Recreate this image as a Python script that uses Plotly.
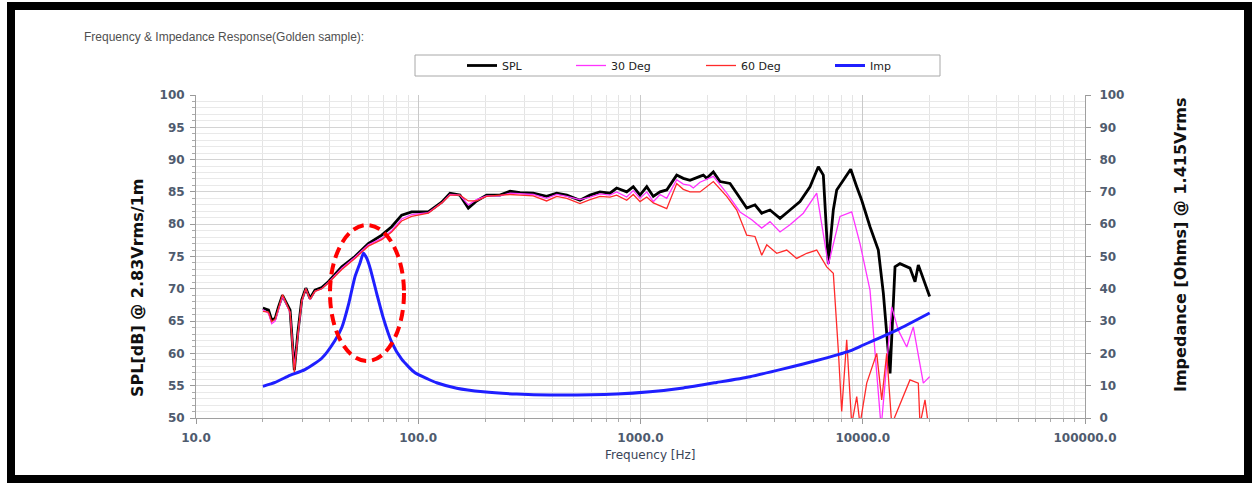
import plotly.graph_objects as go

# ---------------- data ----------------
freq_spl = [20, 21.2, 21.9, 22.7, 23.5, 24.5, 25.6, 26.5, 27.7, 28.7, 29.9, 31.2, 32.6, 34.3, 36.8, 39.4,
            45.3, 51.9, 59.6, 68.5, 75.9, 84.2, 93.4, 111, 127.5, 139, 154, 168, 183, 203, 233, 259, 287,
            329, 378, 420, 466, 534, 593, 657, 729, 781, 867, 928, 995, 1067, 1142, 1224, 1312, 1455,
            1558, 1670, 1852, 1917, 1986, 2127, 2279, 2528, 2710, 3006, 3274, 3511, 3825, 4244, 4706,
            5220, 5790, 6311, 6647, 6999, 7371, 7636, 8175, 8827, 9394, 9893, 10780, 11750, 12380,
            13270, 13970, 14710, 16310, 17190, 17780, 18730, 20000]
spl = [67.0, 66.7, 65.2, 65.4, 67.2, 69.0, 67.7, 66.7, 57.4, 63.1, 68.3, 70.1, 68.5, 69.8, 70.2, 71.1,
       73.4, 75.0, 77.0, 78.3, 79.6, 81.4, 81.9, 81.9, 83.4, 84.8, 84.5, 82.5, 83.6, 84.5, 84.5, 85.1, 84.9,
       84.8, 84.3, 84.8, 84.5, 83.7, 84.5, 85.0, 84.8, 85.6, 85.0, 85.8, 84.5, 85.8, 84.3, 85.0, 85.3, 87.6,
       87.1, 86.8, 87.4, 87.6, 87.1, 88.1, 86.6, 86.3, 84.8, 82.5, 83.0, 81.7, 82.2, 80.9, 82.2,
       83.5, 85.8, 88.9, 87.6, 73.9, 82.2, 85.3, 86.8, 88.5, 85.8, 83.7, 79.6, 76.0, 69.3,
       56.9, 73.4, 73.9, 73.2, 71.1, 73.7, 71.4, 68.8]

freq_30 = [20, 21.2, 21.9, 22.7, 23.5, 24.5, 25.6, 26.5, 27.7, 28.7, 29.9, 31.2, 32.6, 34.3, 36.8, 39.4,
           45.3, 51.9, 59.6, 68.5, 75.9, 84.2, 93.4, 111, 127.5, 139, 154, 168, 183, 203, 233, 259, 287,
           329, 378, 420, 466, 534, 593, 657, 729, 781, 867, 928, 995, 1067, 1142, 1224, 1312, 1455,
           1558, 1670, 1729, 1852, 2127, 2443, 2804, 3166, 3511, 3825, 4244, 4706, 5402, 6207, 6999,
           7901, 8919, 9720, 10780, 12100, 13500, 14450, 15770, 16880, 18730, 20000]
deg30 = [66.8, 66.2, 64.6, 65.0, 66.8, 68.8, 67.5, 66.3, 57.8, 63.0, 68.0, 70.0, 68.3, 69.6, 70.0, 71.0,
         73.2, 74.9, 76.8, 77.8, 79.0, 80.8, 81.5, 81.8, 83.3, 84.6, 84.5, 83.0, 83.8, 84.4, 84.4, 84.8, 84.7,
         84.6, 84.0, 84.6, 84.3, 83.8, 84.2, 84.7, 84.5, 85.0, 84.2, 85.2, 84.0, 85.0, 83.5, 84.6, 84.0, 86.9,
         86.2, 86.0, 85.6, 86.5, 87.4, 84.8, 81.9, 80.7, 79.4, 80.4, 78.8, 79.9, 81.7, 84.8, 73.7,
         81.2, 81.9, 77.0, 69.8, 48.5, 67.2, 63.6, 61.0, 64.1, 55.4, 56.4]

freq_60 = [20, 21.2, 21.9, 22.7, 23.5, 24.5, 25.6, 26.5, 27.7, 28.7, 29.9, 31.2, 32.6, 34.3, 36.8, 39.4,
           45.3, 51.9, 59.6, 68.5, 75.9, 84.2, 93.4, 111, 127.5, 139, 154, 168, 183, 203, 233, 259, 287,
           329, 378, 420, 466, 534, 593, 657, 729, 781, 867, 928, 995, 1067, 1142, 1224, 1312, 1455,
           1558, 1670, 1852, 2127, 2443, 2710, 3006, 3274, 3511, 3699, 4101, 4550, 5045, 5597, 6207,
           6884, 7371, 7764, 8040, 8468, 8919, 9394, 9720, 10420, 11560, 12170, 12820, 13500, 15220,
           16310, 17780, 18100, 19060, 19720]
deg60 = [66.5, 66.4, 64.9, 65.3, 67.0, 69.1, 67.6, 66.4, 57.0, 62.8, 68.2, 70.0, 68.4, 69.6, 70.0, 70.9,
         73.0, 74.7, 76.6, 77.6, 78.8, 80.5, 81.2, 81.7, 83.3, 84.5, 84.5, 83.6, 83.6, 84.3, 84.5, 84.6, 84.5,
         84.4, 83.6, 84.3, 84.0, 83.2, 83.8, 84.3, 84.2, 84.5, 83.7, 84.6, 83.5, 84.2, 83.3, 82.8, 82.4, 86.3,
         85.4, 85.0, 85.0, 86.6, 84.3, 82.2, 78.3, 78.1, 75.2, 76.8, 75.5, 76.0, 74.7, 75.5, 76.0,
         73.4, 72.4, 60.5, 51.0, 62.1, 49.0, 53.3, 49.0, 55.4, 60.0, 52.8, 60.0, 49.0, 53.3,
         55.9, 55.4, 49.0, 52.8, 49.0]

freq_imp = [20, 22.7, 26.0, 30.9, 36.8, 42.2, 45.3, 48.5, 51.9, 54.7, 56.7, 58.6, 60.7, 65.0, 69.6,
            75.9, 84.2, 96.7, 111, 121, 149, 196, 277, 392, 781, 1103, 1558, 2203, 3110, 4391, 6207,
            8766, 10060, 14220, 20000]
imp = [9.8, 11.0, 13.0, 15.0, 18.5, 24.0, 28.0, 35.0, 43.7, 48.0, 51.0, 49.5, 46.5, 38.6, 31.0,
       23.5, 18.2, 14.0, 12.0, 10.9, 9.2, 8.1, 7.4, 7.1, 7.4, 8.1, 9.3, 11.0, 12.8, 15.2, 17.8,
       20.8, 22.6, 27.2, 32.5]

decade_vals = [10, 100, 1000, 10000, 100000]
decade_text = ["10.0", "100.0", "1000.0", "10000.0", "100000.0"]

# ---------------- figure ----------------
LIB = "Liberation Sans, Arial, sans-serif"
DJV = "DejaVu Sans, sans-serif"
TICKCOL = "#4f5b6e"

W, H = 1252, 483
L, R, T, B = 196, 167, 95, 65
pw, ph = W - L - R, H - T - B


def px(x):
    return (x - L) / pw


def py(y):
    return (H - B - y) / ph


fig = go.Figure()
fig.add_trace(go.Scatter(x=freq_spl, y=spl, name="SPL", mode="lines", legend="legend",
                         line=dict(color="#000000", width=2.8)))
fig.add_trace(go.Scatter(x=freq_30, y=deg30, name="30 Deg", mode="lines", legend="legend2",
                         line=dict(color="#ff33ff", width=1.3)))
fig.add_trace(go.Scatter(x=freq_60, y=deg60, name="60 Deg", mode="lines", legend="legend3",
                         line=dict(color="#ff2a2a", width=1.3)))
fig.add_trace(go.Scatter(x=freq_imp, y=imp, name="Imp", mode="lines", yaxis="y2", legend="legend4",
                         line=dict(color="#1f1fff", width=3, shape="spline", smoothing=0.6)))

minor_vals = [d * k for d in decade_vals[:-1] for k in range(2, 10)]


def leg(xpix):
    return dict(orientation="h", x=px(xpix), xanchor="left", y=py(65.5), yanchor="middle",
                font=dict(size=11, color="#222222", family=DJV),
                bgcolor="rgba(0,0,0,0)", borderwidth=0)


tickfont = dict(size=12, color=TICKCOL, family=DJV, weight="bold")

fig.update_layout(
    width=W, height=H,
    margin=dict(l=L, r=R, t=T, b=B),
    paper_bgcolor="white", plot_bgcolor="white",
    font=dict(family=LIB),
    showlegend=True,
    legend=leg(462), legend2=leg(571), legend3=leg(701), legend4=leg(830),
    xaxis=dict(type="log", range=[1, 5], tickmode="array", tickvals=decade_vals, ticktext=decade_text,
               showgrid=True, gridcolor="#c9c9c9", gridwidth=1,
               minor=dict(tickvals=minor_vals, showgrid=True, gridcolor="#e4e4e4", ticks="outside",
                          ticklen=3, tickcolor="#aaaaaa"),
               ticks="outside", ticklen=5, tickcolor="#999999", ticklabelstandoff=4,
               showline=True, linecolor="#a0a0a0", zeroline=False, tickfont=tickfont),
    yaxis=dict(range=[50, 100], dtick=5, tick0=50, showgrid=True, gridcolor="#d4d4d4",
               minor=dict(dtick=1, showgrid=True, gridcolor="#e9e9e9", ticks="outside", ticklen=3,
                          tickcolor="#aaaaaa"),
               ticks="outside", ticklen=5, tickcolor="#999999", ticklabelstandoff=3,
               showline=True, linecolor="#a0a0a0", zeroline=False, tickfont=tickfont),
    yaxis2=dict(range=[0, 100], dtick=10, tick0=0, overlaying="y", side="right", showgrid=False,
                ticks="outside", ticklen=5, tickcolor="#999999", ticklabelstandoff=6,
                showline=True, linecolor="#a0a0a0", zeroline=False, tickfont=tickfont),
    annotations=[
        dict(text="Frequency &amp; Impedance Response(Golden sample):", xref="paper", yref="paper",
             x=px(82), y=py(37), xanchor="left", yanchor="middle", showarrow=False,
             font=dict(size=12, color="#505050", family=LIB)),
        dict(text="Frequency [Hz]", xref="paper", yref="paper", x=px(650), y=py(455),
             xanchor="center", yanchor="middle", showarrow=False,
             font=dict(size=12, color="#3a4558", family=DJV)),
        dict(text="SPL[dB] @ 2.83Vrms/1m", xref="paper", yref="paper", x=px(137), y=py(288),
             xanchor="center", yanchor="middle", textangle=-90, showarrow=False,
             font=dict(size=16, color="#111111", family=DJV, weight="bold")),
        dict(text="Impedance [Ohms] @ 1.415Vrms", xref="paper", yref="paper", x=px(1180), y=py(245),
             xanchor="center", yanchor="middle", textangle=-90, showarrow=False,
             font=dict(size=16, color="#111111", family=DJV, weight="bold")),
    ],
    shapes=[
        # legend box
        dict(type="rect", xref="paper", yref="paper", x0=px(415), x1=px(940), y0=py(76), y1=py(55),
             line=dict(color="#a8a8a8", width=1), fillcolor="rgba(0,0,0,0)", layer="below"),
        # highlighted resonance region
        dict(type="circle", xref="paper", yref="paper", x0=px(330), x1=px(404), y0=py(361), y1=py(225),
             line=dict(color="#ff0000", width=4, dash="11px,6px")),
        # outer frame
        dict(type="rect", xref="paper", yref="paper", x0=px(11), x1=px(1248), y0=py(479), y1=py(6),
             line=dict(color="#000000", width=8)),
    ],
)

fig.write_html("out.html", config={"displayModeBar": False},
               post_script="document.body.style.margin='0px';")
